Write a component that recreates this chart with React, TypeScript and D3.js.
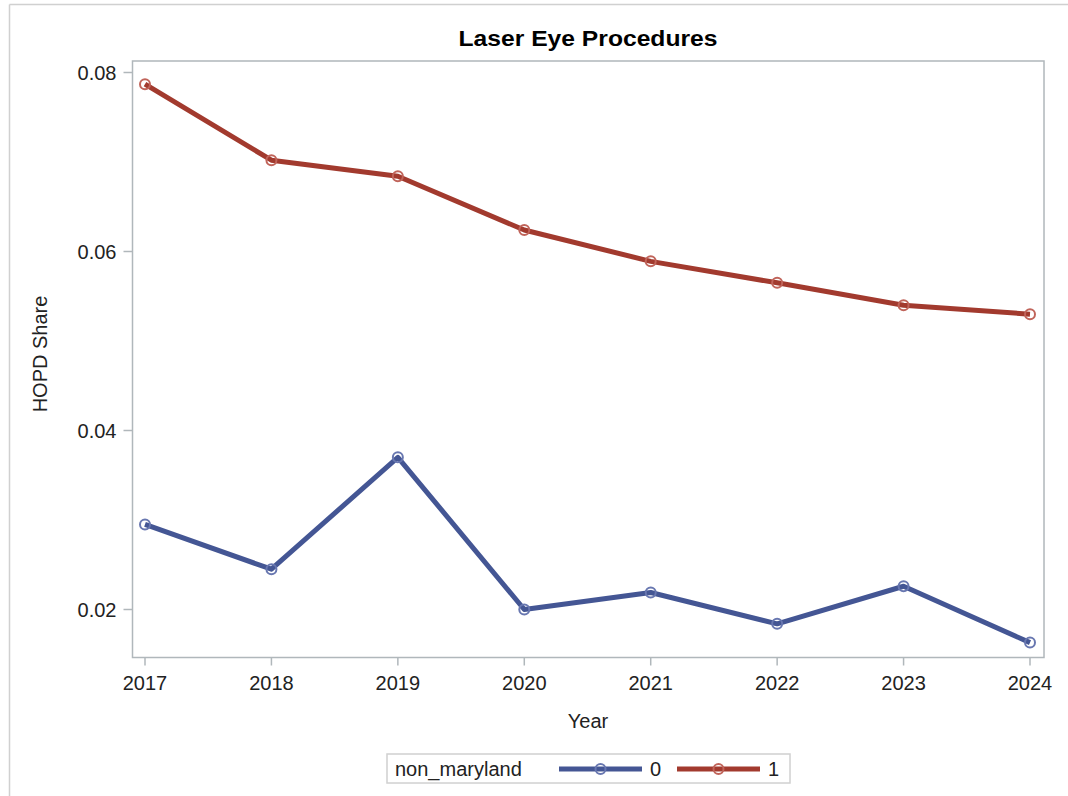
import React from "react";
import * as d3 from "d3";

const years = [2017, 2018, 2019, 2020, 2021, 2022, 2023, 2024];
const series0 = [0.0295, 0.0245, 0.0370, 0.0200, 0.0219, 0.0184, 0.0226, 0.0163];
const series1 = [0.0787, 0.0702, 0.0684, 0.0624, 0.0589, 0.0565, 0.0540, 0.0530];
const yTicks = [0.02, 0.04, 0.06, 0.08];
const seriesNames = ["0", "1"];
const colors = ["#445694", "#A23A2E"];
const markerColors = ["#6877B0", "#C0645A"];

const W = 1068, H = 796;
const L = 132.5, R = 1044, T = 61, B = 657.5;
const font = "'Liberation Sans', Arial, sans-serif";

export default function App() {
  const x = d3.scaleLinear().domain([2017, 2024]).range([145, 1030]);
  const y = d3.scaleLinear().domain([0.02, 0.08]).range([609.5, 72.5]);
  const line = d3.line<number>().x((_, i) => x(years[i])).y((d) => y(d));
  const data = [series0, series1];
  return (
    <svg width={W} height={H} style={{ position: "absolute", left: 0, top: 0 }} fontFamily={font}>
      <rect x={0} y={0} width={W} height={H} fill="#fff" />
      <line x1={9.5} y1={4.5} x2={W} y2={4.5} stroke="#d0d0d0" strokeWidth={1.5} />
      <line x1={9.5} y1={4.5} x2={9.5} y2={H} stroke="#d0d0d0" strokeWidth={1.5} />
      <text x={588} y={46} textAnchor="middle" fontSize={22} fontWeight="bold" fill="#000" textLength={259} lengthAdjust="spacingAndGlyphs">Laser Eye Procedures</text>
      {yTicks.map((t) => (
        <g key={t}>
          <line x1={L - 9} x2={L} y1={y(t)} y2={y(t)} stroke="#b0b7bb" strokeWidth={1.5} />
          <text x={L - 16} y={y(t) + 7} textAnchor="end" fontSize={20} fill="#222">{t.toFixed(2)}</text>
        </g>
      ))}
      {years.map((yr) => (
        <g key={yr}>
          <line x1={x(yr)} x2={x(yr)} y1={B} y2={B + 8} stroke="#b0b7bb" strokeWidth={1.5} />
          <text x={x(yr)} y={690} textAnchor="middle" fontSize={20} fill="#222">{yr}</text>
        </g>
      ))}
      <text x={588} y={728} textAnchor="middle" fontSize={20} fill="#222">Year</text>
      <text transform={`translate(47,354) rotate(-90)`} textAnchor="middle" fontSize={20} fill="#222">HOPD Share</text>
      {data.map((s, k) => (
        <g key={k}>
          <path d={line(s) || ""} fill="none" stroke={colors[k]} strokeWidth={5} strokeLinejoin="round" />
          {s.map((v, i) => (
            <circle key={i} cx={x(years[i])} cy={y(v)} r={5} fill="none" stroke={markerColors[k]} strokeWidth={2} />
          ))}
        </g>
      ))}
      <rect x={L} y={T} width={R - L} height={B - T} fill="none" stroke="#b0b7bb" strokeWidth={1.5} />
      <rect x={387} y={754} width={403} height={29} fill="none" stroke="#d0d0d0" strokeWidth={1.5} />
      <text x={395} y={776} fontSize={20} fill="#222">non_maryland</text>
      {[0, 1].map((k) => {
        const x0 = k === 0 ? 559 : 677;
        return (
          <g key={k}>
            <line x1={x0} x2={x0 + 83} y1={769} y2={769} stroke={colors[k]} strokeWidth={5} />
            <circle cx={x0 + 41.5} cy={769} r={5} fill="none" stroke={markerColors[k]} strokeWidth={2} />
            <text x={x0 + 91} y={776} fontSize={20} fill="#222">{seriesNames[k]}</text>
          </g>
        );
      })}
    </svg>
  );
}
